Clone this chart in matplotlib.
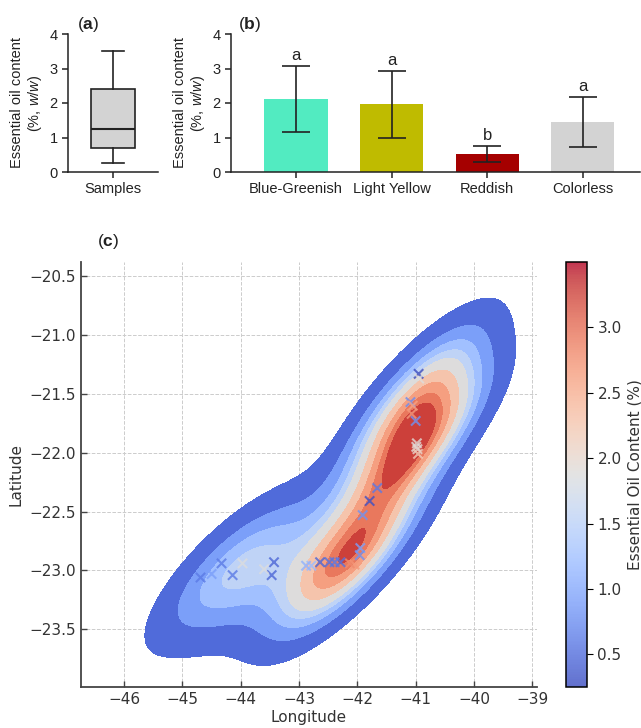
import numpy as np
import matplotlib
matplotlib.use("Agg")
import matplotlib.pyplot as plt
from matplotlib.colors import Normalize
import seaborn as sns

# ---------------- data ----------------
box_stats = dict(whislo=0.25, q1=0.70, med=1.25, q3=2.40, whishi=3.50)
box_label = "Samples"

categories = ["Blue-Greenish", "Light Yellow", "Reddish", "Colorless"]
means = [2.12, 1.97, 0.52, 1.45]
sds = [0.96, 0.97, 0.23, 0.72]
letters = ["a", "a", "b", "a"]
bar_colors = ["#52EBC1", "#BFBB00", "#A50000", "#D3D3D3"]

longitude = [-40.95, -40.94, -41.09, -41.05, -41.07, -41.00, -40.98, -40.99,
             -40.97, -40.96, -41.66, -41.79, -41.91, -41.95, -41.96, -42.05,
             -42.13, -42.29, -42.39, -42.48, -42.64, -42.79, -42.88, -43.43,
             -43.47, -43.60, -43.97, -44.14, -44.33, -44.50, -44.69]
latitude = [-21.33, -21.37, -21.57, -21.60, -21.67, -21.73, -21.92, -21.95,
            -21.97, -22.01, -22.30, -22.41, -22.53, -22.81, -22.87, -22.95,
            -22.94, -22.93, -22.93, -22.93, -22.93, -22.96, -22.96, -22.93,
            -23.04, -22.99, -22.94, -23.04, -22.94, -23.03, -23.06]
oil = [0.26, 1.90, 0.75, 2.60, 2.70, 0.80, 1.95, 1.90,
       2.00, 2.20, 0.60, 0.30, 0.80, 0.90, 0.80, 2.70,
       2.80, 0.55, 0.60, 0.55, 0.45, 1.20, 1.10, 0.45,
       0.45, 1.85, 1.85, 0.60, 0.60, 0.90, 0.60]

# ---------------- figure ----------------
W, H = 641, 728
fig = plt.figure(figsize=(W / 100, H / 100), dpi=100)
plt.rcParams["mathtext.fontset"] = "custom"
plt.rcParams["mathtext.it"] = "Liberation Sans:italic"
plt.rcParams["mathtext.bf"] = "Liberation Sans:bold"
plt.rcParams["mathtext.rm"] = "Liberation Sans"

def box(l, t, r, b):
    return [l / W, 1 - b / H, (r - l) / W, (b - t) / H]

ax_a = fig.add_axes(box(68, 34, 158, 172))
ax_b = fig.add_axes(box(231, 34, 640, 172))
ax_c = fig.add_axes(box(81, 262, 537, 687))
cax = fig.add_axes(box(566, 262, 587, 687))

arial = "Liberation Sans"
ink = "#222222"

def prism(ax):
    for s in ["top", "right"]:
        ax.spines[s].set_visible(False)
    for s in ["left", "bottom"]:
        ax.spines[s].set_linewidth(1.1)
        ax.spines[s].set_color(ink)
    ax.tick_params(direction="out", length=4, width=1.1, color=ink,
                   labelsize=10.5, labelcolor=ink)
    for lab in ax.get_xticklabels() + ax.get_yticklabels():
        lab.set_fontfamily(arial)
    ax.set_ylim(0, 4)
    ax.set_yticks([0, 1, 2, 3, 4])
    ax.set_ylabel("Essential oil content\n(%, $\\mathit{w/w}$)", fontsize=10.5,
                  family=arial, color=ink, linespacing=1.15, labelpad=4)

# (a) box plot
ax_a.bxp([dict(box_stats, label=box_label, fliers=[])], positions=[1], widths=0.49,
         patch_artist=True, showfliers=False,
         boxprops=dict(facecolor="#D3D3D3", edgecolor=ink, linewidth=1.2),
         medianprops=dict(color=ink, linewidth=1.5),
         whiskerprops=dict(color=ink, linewidth=1.2),
         capprops=dict(color=ink, linewidth=1.2))
ax_a.set_xlim(0.5, 1.5)
prism(ax_a)
for lab in ax_a.get_xticklabels():
    lab.set_fontfamily(arial)

# (b) bars
xpos = np.arange(len(categories))
ax_b.bar(xpos, means, width=0.66, color=bar_colors, yerr=sds,
         error_kw=dict(ecolor=ink, elinewidth=1.2, capsize=10, capthick=1.2))
for x, m, s, let in zip(xpos, means, sds, letters):
    ax_b.annotate(let, (x, m + s), xytext=(0, 2), textcoords="offset points",
                  ha="center", va="bottom", fontsize=12, family=arial, color=ink)
ax_b.set_xticks(xpos)
ax_b.set_xticklabels(categories)
ax_b.set_xlim(-0.68, 3.6)
prism(ax_b)
for lab in ax_b.get_xticklabels():
    lab.set_fontfamily(arial)

fig.text(88 / W, 1 - 25 / H, "($\\mathbf{a}$)", fontsize=12.5, family=arial,
         ha="center", va="center", color=ink)
fig.text(250 / W, 1 - 25 / H, "($\\mathbf{b}$)", fontsize=12.5, family=arial,
         ha="center", va="center", color=ink)
fig.text(108 / W, 1 - 242 / H, "($\\mathbf{c}$)", fontsize=12.5, family=arial,
         ha="center", va="center", color=ink)

# (c) KDE map
sns.kdeplot(x=longitude, y=latitude, weights=oil, fill=True, cmap="coolwarm",
            levels=10, thresh=0.05, bw_adjust=1.1, ax=ax_c)
norm = Normalize(vmin=box_stats["whislo"], vmax=box_stats["whishi"])
sc = ax_c.scatter(longitude, latitude, c=oil, cmap="coolwarm", norm=norm,
                  marker="x", s=45, alpha=0.8, linewidths=1.5, zorder=5)
ax_c.set_xlim(-46.74, -38.92)
ax_c.set_ylim(-23.99, -20.38)
ax_c.set_xticks([-46, -45, -44, -43, -42, -41, -40, -39])
ax_c.set_yticks([-23.5, -23.0, -22.5, -22.0, -21.5, -21.0, -20.5])
ax_c.grid(True, linestyle="--", color="#cccccc", linewidth=0.7)
ax_c.set_axisbelow(True)
for s in ["top", "right"]:
    ax_c.spines[s].set_visible(False)
for s in ["left", "bottom"]:
    ax_c.spines[s].set_linewidth(1.3)
    ax_c.spines[s].set_color("#444444")
ax_c.tick_params(direction="in", length=4, width=1, color="#444444",
                 labelsize=11, labelcolor="#333333")
ax_c.set_xlabel("Longitude", fontsize=11, color="#333333", labelpad=2)
ax_c.set_ylabel("Latitude", fontsize=11, color="#333333", labelpad=4)

cb = fig.colorbar(sc, cax=cax)
cb.set_label("Essential Oil Content (%)", fontsize=11, color="#333333")
cb.set_ticks([0.5, 1.0, 1.5, 2.0, 2.5, 3.0])
cb.ax.tick_params(labelsize=11, labelcolor="#333333", length=4)
cb.outline.set_linewidth(1.1)

fig.savefig("out.png", dpi=100)
